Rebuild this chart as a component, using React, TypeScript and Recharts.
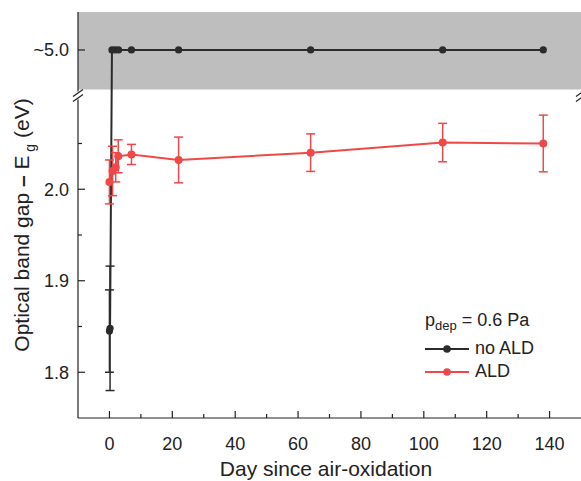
import { ComposedChart, Line, XAxis, YAxis, ErrorBar, ReferenceArea, ReferenceDot, Legend } from "recharts";

// days since air-oxidation
const noAldDays = [0, 0.2, 0.8, 1.8, 2.9, 7, 22, 64, 106, 138];
const noAldGap = [1.845, 1.848, 5.0, 5.0, 5.0, 5.0, 5.0, 5.0, 5.0, 5.0];
const noAldErr = [0.045, 0.068, null, null, null, null, null, null, null, null];

const aldDays = [0, 1, 2, 2.8, 7, 22, 64, 106, 138];
const aldGap = [2.008, 2.02, 2.024, 2.036, 2.038, 2.032, 2.04, 2.051, 2.05];
const aldErr = [0.024, 0.027, 0.016, 0.018, 0.011, 0.025, 0.0205, 0.021, 0.031];

const seriesNames = ["no ALD", "ALD"];

const xTicks = [0, 10, 20, 30, 40, 50, 60, 70, 80, 90, 100, 110, 120, 130, 140];
const lowerTicks = [1.8, 1.85, 1.9, 1.95, 2.0, 2.05];

// broken axis: lower part is linear, the ~5.0 band sits on top
const UPPER_VALUE = 5.0;
const UPPER_POS = 2.1522;
const BAND_BOTTOM = 2.109;
const Y_MIN = 1.75;
const Y_MAX = 2.1937;
const BREAK_POS = 2.1025;
const toDisplay = (v: number) => (v > 3 ? UPPER_POS + (v - UPPER_VALUE) * 0.1 : v);

const yTicks = [...lowerTicks, UPPER_POS];

const noAldData = noAldDays.map((d, i) => ({ day: d, gap: toDisplay(noAldGap[i]), err: noAldErr[i] }));
const aldData = aldDays.map((d, i) => ({ day: d, gap: toDisplay(aldGap[i]), err: aldErr[i] }));

const AXIS = "#222";
const BLACK = "#2b2b2b";
const RED = "#f04848";
const FONT = "'Liberation Sans', Arial, sans-serif";

const isMajorY = (v: number) => v === UPPER_POS || Math.abs(v * 10 - Math.round(v * 10)) < 1e-6;
const yLabel = (v: number) => (v === UPPER_POS ? "~5.0" : v.toFixed(1));

const BottomTick = (props: any) => {
  const { x, y, payload } = props;
  const major = payload.value % 20 === 0;
  return (
    <g>
      <line x1={x} x2={x} y1={y} y2={y - (major ? 7 : 4)} stroke={AXIS} strokeWidth={1.2} />
      {major && (
        <text x={x} y={y + 32} textAnchor="middle" fontSize={18} fill={AXIS} fontFamily={FONT}>
          {payload.value}
        </text>
      )}
    </g>
  );
};

const TopTick = (props: any) => {
  const { x, y, payload } = props;
  const major = payload.value % 20 === 0;
  return <line x1={x} x2={x} y1={y} y2={y + (major ? 7 : 4)} stroke={AXIS} strokeWidth={1.2} />;
};

const LeftTick = (props: any) => {
  const { x, y, payload } = props;
  const major = isMajorY(payload.value);
  return (
    <g>
      <line x1={x} x2={x + (major ? 7 : 4)} y1={y} y2={y} stroke={AXIS} strokeWidth={1.2} />
      {major && (
        <text x={x - 9} y={y} dy="0.36em" textAnchor="end" fontSize={18} fill={AXIS} fontFamily={FONT}>
          {yLabel(payload.value)}
        </text>
      )}
    </g>
  );
};

const RightTick = (props: any) => {
  const { x, y, payload } = props;
  const major = isMajorY(payload.value);
  return <line x1={x} x2={x - (major ? 7 : 4)} y1={y} y2={y} stroke={AXIS} strokeWidth={1.2} />;
};

const BreakMark = (props: any) => {
  const { cx, cy } = props;
  return (
    <g>
      <rect x={cx - 3} y={cy - 4} width={6} height={8} fill="#fff" />
      <line x1={cx - 5} y1={cy + 1} x2={cx + 5} y2={cy - 6} stroke={AXIS} strokeWidth={1.2} />
      <line x1={cx - 5} y1={cy + 6} x2={cx + 5} y2={cy - 1} stroke={AXIS} strokeWidth={1.2} />
    </g>
  );
};

const LegendBox = (props: any) => {
  const items = [...(props.payload || [])].sort(
    (a: any, b: any) => seriesNames.indexOf(a.value) - seriesNames.indexOf(b.value)
  );
  return (
    <div style={{ fontFamily: FONT, fontSize: 18, color: AXIS, lineHeight: "23px" }}>
      <div>
        p<sub style={{ fontSize: 13, verticalAlign: "-4px" }}>dep</sub> = 0.6 Pa
      </div>
      {items.map((it: any) => (
        <div key={it.value} style={{ display: "flex", alignItems: "center" }}>
          <svg width={44} height={10} style={{ marginRight: 6 }}>
            <line x1={0} x2={44} y1={5} y2={5} stroke={it.color} strokeWidth={2} />
            <circle cx={22} cy={5} r={3.8} fill={it.color} />
          </svg>
          <span>{it.value}</span>
        </div>
      ))}
    </div>
  );
};

export default function App() {
  return (
    <div>
      <style>{"body{margin:0}"}</style>
      <ComposedChart width={581} height={481} margin={{ top: 12, right: 0, bottom: 0, left: 0 }}>
        <ReferenceArea yAxisId="left" xAxisId="bottom" y1={BAND_BOTTOM} y2={Y_MAX} fill="#bebebe" fillOpacity={1} stroke="none" ifOverflow="visible" />
        <XAxis
          xAxisId="bottom"
          type="number"
          dataKey="day"
          domain={[-10, 150]}
          ticks={xTicks}
          allowDataOverflow
          height={63}
          tickSize={0}
          tickMargin={0}
          tickLine={false}
          tick={<BottomTick />}
          stroke={AXIS}
          strokeWidth={1.2}
          label={{
            content: () => (
              <text x={326} y={476} textAnchor="middle" fontSize={21} fill={AXIS} fontFamily={FONT}>
                Day since air-oxidation
              </text>
            ),
          }}
        />
        <XAxis
          xAxisId="top"
          orientation="top"
          type="number"
          domain={[-10, 150]}
          ticks={xTicks}
          allowDataOverflow
          height={0}
          tickSize={0}
          tickMargin={0}
          tickLine={false}
          tick={<TopTick />}
          stroke={AXIS}
          strokeWidth={1.2}
        />
        <YAxis
          yAxisId="left"
          type="number"
          domain={[Y_MIN, Y_MAX]}
          ticks={yTicks}
          allowDataOverflow
          width={78}
          tickSize={0}
          tickMargin={0}
          tickLine={false}
          tick={<LeftTick />}
          stroke={AXIS}
          strokeWidth={1.2}
          label={{
            content: () => (
              <text
                x={29}
                y={225}
                transform="rotate(-90 29 225)"
                textAnchor="middle"
                fontSize={21}
                fill={AXIS}
                fontFamily={FONT}
              >
                Optical band gap <tspan fontWeight="bold">–</tspan> E
                <tspan fontSize={14} dy={6}> g</tspan>
                <tspan dy={-6}> (eV)</tspan>
              </text>
            ),
          }}
        />
        <YAxis
          yAxisId="right"
          orientation="right"
          type="number"
          domain={[Y_MIN, Y_MAX]}
          ticks={yTicks}
          allowDataOverflow
          width={0}
          tickSize={0}
          tickMargin={0}
          tickLine={false}
          tick={<RightTick />}
          stroke={AXIS}
          strokeWidth={1.2}
        />
        <Line
          xAxisId="bottom"
          yAxisId="left"
          data={noAldData}
          dataKey="gap"
          name="no ALD"
          stroke={BLACK}
          strokeWidth={2}
          dot={{ r: 3.6, fill: BLACK, stroke: BLACK, strokeWidth: 0 }}
          isAnimationActive={false}
        >
          <ErrorBar dataKey="err" width={4.5} stroke={BLACK} strokeWidth={1.5} direction="y" />
        </Line>
        <Line
          xAxisId="bottom"
          yAxisId="left"
          data={aldData}
          dataKey="gap"
          name="ALD"
          stroke={RED}
          strokeWidth={2}
          dot={{ r: 4, fill: RED, stroke: RED, strokeWidth: 0 }}
          isAnimationActive={false}
        >
          <ErrorBar dataKey="err" width={4.5} stroke={RED} strokeWidth={1.5} direction="y" />
        </Line>
        <ReferenceDot xAxisId="bottom" yAxisId="left" x={-10} y={BREAK_POS} ifOverflow="visible" shape={<BreakMark />} />
        <ReferenceDot xAxisId="bottom" yAxisId="left" x={150} y={BREAK_POS} ifOverflow="visible" shape={<BreakMark />} />
        <Legend
          layout="vertical"
          verticalAlign="middle"
          align="center"
          wrapperStyle={{ left: 425, top: 309, width: 150 }}
          content={<LegendBox />}
        />
      </ComposedChart>
    </div>
  );
}
